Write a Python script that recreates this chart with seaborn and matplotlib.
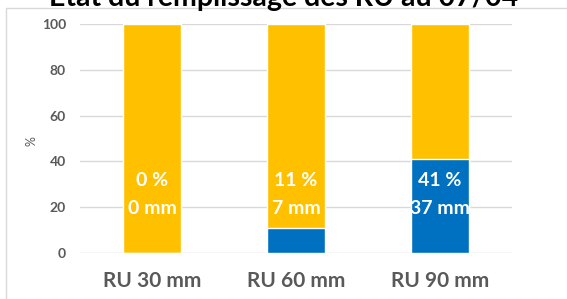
import pandas as pd
import matplotlib.pyplot as plt
import seaborn as sns
from matplotlib.patches import Rectangle

categories = ['RU 30 mm', 'RU 60 mm', 'RU 90 mm']
filled_pct = [0, 11, 41]
total_pct = [100, 100, 100]
filled_mm = [0, 7, 37]
yticks = [0, 20, 40, 60, 80, 100]

sns.set_theme(style='white')
plt.rcParams['font.family'] = ['Lato', 'DejaVu Sans']

df = pd.DataFrame({'cat': categories, 'filled': filled_pct,
                   'total': total_pct, 'mm': filled_mm})

fig = plt.figure(figsize=(5.67, 2.99), dpi=100)
ax = fig.add_axes([80 / 567, 46 / 299, 432 / 567, 229 / 299])

grey = '#595959'
# orange = remaining capacity (full bar), blue = filled part
sns.barplot(data=df, x='cat', y='total', color='#FFC000', width=0.405,
            saturation=1, ax=ax, zorder=2)
sns.barplot(data=df, x='cat', y='filled', color='#0070C0', width=0.405,
            saturation=1, ax=ax, zorder=3)

for i, row in df.iterrows():
    ax.text(i, 31.5, f"{row['filled']} %", color='white', ha='center',
            va='center', fontsize=14, fontweight='bold', zorder=4)
    ax.text(i, 19.5, f"{row['mm']} mm", color='white', ha='center',
            va='center', fontsize=14, fontweight='bold', zorder=4)

ax.set_xlim(-0.5, 2.5)
ax.set_ylim(0, 100)
ax.set_yticks(yticks)
ax.yaxis.grid(True, color='#D9D9D9', linewidth=1, zorder=0)
ax.set_axisbelow(True)
for s in ax.spines.values():
    s.set_visible(False)
ax.tick_params(axis='y', length=0, pad=10, labelsize=10, labelcolor=grey)
ax.tick_params(axis='x', length=0, pad=13, labelsize=15, labelcolor=grey)
for lab in ax.get_xticklabels():
    lab.set_fontweight('bold')
for lab in ax.get_yticklabels():
    lab.set_fontweight('bold')
ax.set_xlabel('')
ax.set_ylabel('%', color=grey, fontsize=9, labelpad=0)
ax.yaxis.set_label_coords(-43 / 432, 0.49)

fig.patches.append(Rectangle((6 / 567, -0.1), 1.2, 1 - 8 / 299 + 0.1,
                             transform=fig.transFigure, fill=False,
                             edgecolor='#D9D9D9', linewidth=1, zorder=0))
fig.text(284 / 567, 1 - 6 / 299, 'Etat du remplissage des RU au 07/04',
         ha='center', va='baseline', fontsize=20.5, fontweight='bold',
         color='black')

fig.savefig('out.png', dpi=100)
